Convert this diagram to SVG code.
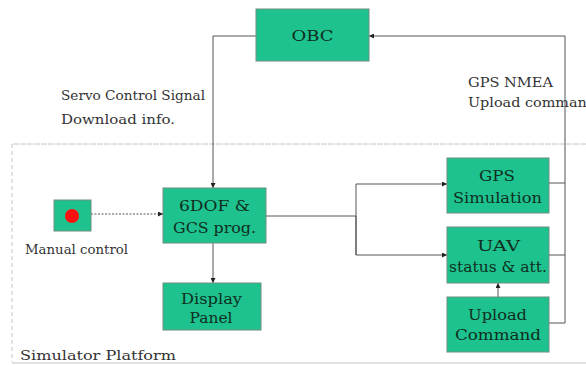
<svg xmlns="http://www.w3.org/2000/svg" width="586" height="365" viewBox="0 0 586 365">
  <defs>
    <marker id="arrow" viewBox="0 0 6 6" refX="6" refY="3" markerWidth="5" markerHeight="5" orient="auto" markerUnits="userSpaceOnUse">
      <path d="M0,0 L6,3 L0,6 Z" fill="#222"/>
    </marker>
    <style>
      .box { fill: #1ec28e; stroke: #6e8e80; stroke-width: 1; }
      .nt { font-family: "DejaVu Serif", serif; font-size: 15px; fill: #0e2e20; text-anchor: middle; }
      .lbl { font-family: "DejaVu Serif", serif; font-size: 13px; fill: #333; }
      .wire { fill: none; stroke: #555; stroke-width: 1; }
      .frame { fill: none; stroke: #c4c4c4; stroke-width: 1; }
    </style>
  </defs>

  <rect width="586" height="365" fill="#ffffff"/>

  <!-- simulator platform frame -->
  <g id="frame">
    <line class="frame" x1="13" y1="144" x2="586" y2="144" stroke-dasharray="6 1"/>
    <line class="frame" x1="12" y1="144" x2="12" y2="362" stroke-dasharray="4 3"/>
    <line class="frame" x1="12" y1="363" x2="586" y2="363"/>
    <text class="lbl" x="20" y="360" font-size="16" fill="#222" textLength="156" lengthAdjust="spacingAndGlyphs">Simulator Platform</text>
  </g>

  <!-- connectors -->
  <g id="connectors">
    <polyline class="wire" points="256,36 213,36 213,188" marker-end="url(#arrow)"/>
    <polyline class="wire" points="549,323 565,323 565,36 369,36" marker-end="url(#arrow)"/>
    <line class="wire" x1="549" y1="183" x2="565" y2="183"/>
    <line class="wire" x1="549" y1="255" x2="565" y2="255"/>
    <line class="wire" x1="91" y1="214" x2="163" y2="214" stroke-dasharray="2 1.5" marker-end="url(#arrow)"/>
    <line class="wire" x1="213" y1="243" x2="213" y2="283" marker-end="url(#arrow)"/>
    <polyline class="wire" points="266,216 356,216"/>
    <polyline class="wire" points="356,255 356,184 447,184" marker-end="url(#arrow)"/>
    <polyline class="wire" points="356,216 356,255 447,255" marker-end="url(#arrow)"/>
    <line class="wire" x1="498" y1="297" x2="498" y2="283" marker-end="url(#arrow)"/>
  </g>

  <!-- labels -->
  <g id="labels">
    <text class="lbl" x="61" y="100" font-size="14" textLength="144" lengthAdjust="spacingAndGlyphs">Servo Control Signal</text>
    <text class="lbl" x="61" y="124" font-size="14" textLength="114" lengthAdjust="spacingAndGlyphs">Download  info.</text>
    <text class="lbl" x="468" y="87" font-size="14" textLength="85" lengthAdjust="spacingAndGlyphs">GPS NMEA</text>
    <text class="lbl" x="468" y="107" font-size="14" textLength="128" lengthAdjust="spacingAndGlyphs">Upload command</text>
  </g>

  <g id="obc">
    <rect class="box" x="256" y="9" width="113" height="52"/>
    <text class="nt" x="312.5" y="41" textLength="42" lengthAdjust="spacingAndGlyphs">OBC</text>
  </g>

  <g id="manual-control">
    <rect class="box" x="54" y="200" width="37" height="31"/>
    <circle cx="72" cy="216" r="7" fill="#ff1010"/>
    <text class="lbl" x="25" y="254" font-size="12" textLength="103" lengthAdjust="spacingAndGlyphs">Manual control</text>
  </g>

  <g id="sixdof">
    <rect class="box" x="163" y="188" width="103" height="55"/>
    <text class="nt" x="214.5" y="211" textLength="71" lengthAdjust="spacingAndGlyphs">6DOF &amp;</text>
    <text class="nt" x="214.5" y="233" textLength="83" lengthAdjust="spacingAndGlyphs">GCS prog.</text>
  </g>

  <g id="display-panel">
    <rect class="box" x="163" y="283" width="98" height="47"/>
    <text class="nt" x="211.5" y="304" textLength="61" lengthAdjust="spacingAndGlyphs">Display</text>
    <text class="nt" x="211" y="323" textLength="43" lengthAdjust="spacingAndGlyphs">Panel</text>
  </g>

  <g id="gps-simulation">
    <rect class="box" x="447" y="158" width="102" height="55"/>
    <text class="nt" x="497" y="181" textLength="36" lengthAdjust="spacingAndGlyphs">GPS</text>
    <text class="nt" x="497.5" y="203" textLength="89" lengthAdjust="spacingAndGlyphs">Simulation</text>
  </g>

  <g id="uav-status">
    <rect class="box" x="447" y="227" width="102" height="56"/>
    <text class="nt" x="498.5" y="251" textLength="43" lengthAdjust="spacingAndGlyphs">UAV</text>
    <text class="nt" x="498" y="272" textLength="98" lengthAdjust="spacingAndGlyphs">status &amp; att.</text>
  </g>

  <g id="upload-command">
    <rect class="box" x="447" y="297" width="102" height="55"/>
    <text class="nt" x="497.5" y="320" textLength="59" lengthAdjust="spacingAndGlyphs">Upload</text>
    <text class="nt" x="498" y="340" textLength="86" lengthAdjust="spacingAndGlyphs">Command</text>
  </g>
</svg>
